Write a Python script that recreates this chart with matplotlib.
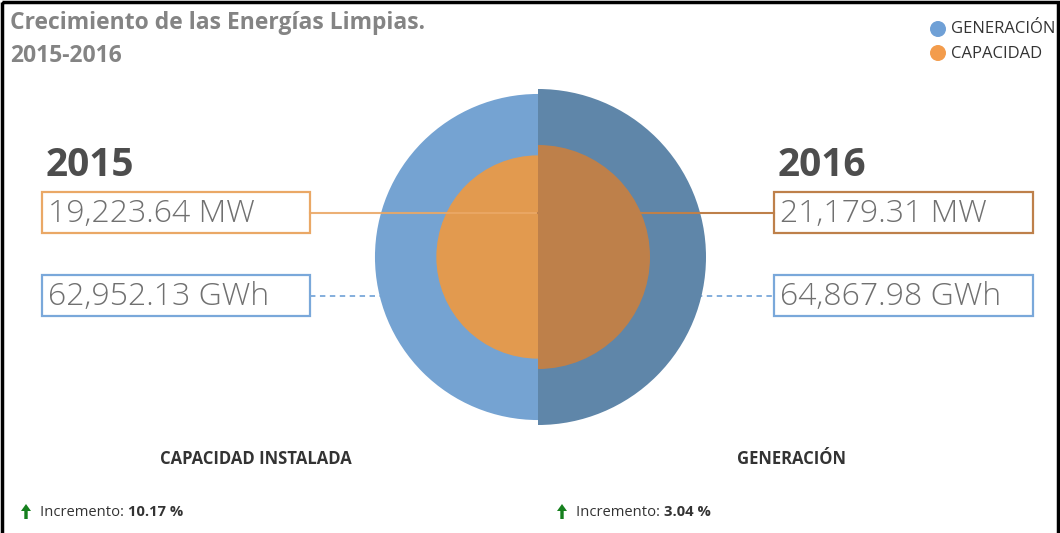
"""
Crecimiento de las Energias Limpias 2015-2016
two half-discs: generation (outer) and capacity (inner)
"""

import matplotlib.pyplot as plt
from matplotlib.patches import Wedge, Rectangle, FancyArrow

years = ['2015', '2016']
capacidad = [19223.64, 21179.31]   # MW
generacion = [62952.13, 64867.98]  # GWh
incrementos = [10.17, 3.04]
etiquetas = ['CAPACIDAD INSTALADA', 'GENERACIÓN']
leyenda = ['GENERACIÓN', 'CAPACIDAD']

gen_colors = ['#75A3D2', '#5F86A9']
cap_colors = ['#E29A4F', '#BE804A']
cap_line = ['#EAA866', '#BE804A']


def main():
    plt.rcParams['font.family'] = ['Open Sans', 'DejaVu Sans']
    fig = plt.figure(figsize=(10.6, 5.33), dpi=100)
    ax = fig.add_axes([0, 0, 1, 1])
    ax.set_xlim(0, 1060)
    ax.set_ylim(533, 0)
    ax.axis('off')

    cx, cy = 538, 257
    # radii proportional to value, per series
    k_gen = 168 / max(generacion)
    k_cap = 112 / max(capacidad)

    y_cap, y_gen = 213, 296
    box_x = [42, 774]
    box_w = [268, 259]

    # dashed generation lines (under the circle)
    ax.plot([box_x[0] + box_w[0], cx], [y_gen, y_gen], ls=(0, (3, 2.5)),
            color='#7AA8DA', lw=1.3, zorder=1)
    ax.plot([cx, box_x[1]], [y_gen, y_gen], ls=(0, (3, 2.5)),
            color='#7AA8DA', lw=1.3, zorder=1)

    for i in range(2):
        t1, t2 = (90, 270) if i == 0 else (270, 90)
        ax.add_patch(Wedge((cx, cy), generacion[i] * k_gen, t1, t2,
                           color=gen_colors[i], lw=0, zorder=2))
        ax.add_patch(Wedge((cx, cy), capacidad[i] * k_cap, t1, t2,
                           color=cap_colors[i], lw=0, zorder=3))

    # capacity lines (over the circle)
    ax.plot([box_x[0] + box_w[0], cx], [y_cap, y_cap], color=cap_line[0],
            lw=1.5, zorder=4, alpha=0.9)
    ax.plot([cx, box_x[1]], [y_cap, y_cap], color=cap_line[1],
            lw=1.5, zorder=4)

    for i in range(2):
        x0 = box_x[i]
        ax.text(x0 + 4, 165, years[i], fontsize=28, fontweight='bold',
                color='#4D4D4D', va='center', ha='left')
        ax.add_patch(Rectangle((x0, y_cap - 21), box_w[i], 41, fill=False,
                               ec=cap_line[i], lw=1.6, zorder=5))
        ax.add_patch(Rectangle((x0, y_gen - 21), box_w[i], 41, fill=False,
                               ec='#7AA8DA', lw=1.6, zorder=5))
        ax.text(x0 + 6, y_cap + 1, f'{capacidad[i]:,.2f} MW', fontsize=23,
                fontweight='light', color='#707070', va='center', ha='left',
                zorder=6)
        ax.text(x0 + 6, y_gen + 1, f'{generacion[i]:,.2f} GWh', fontsize=23,
                fontweight='light', color='#707070', va='center', ha='left',
                zorder=6)

    # bottom labels
    ax.text(256, 459, etiquetas[0], fontsize=12, fontweight='bold',
            color='#333333', ha='center', va='center')
    ax.text(792, 459, etiquetas[1], fontsize=12, fontweight='bold',
            color='#333333', ha='center', va='center')

    for x0, inc in zip([20, 556], incrementos):
        ax.add_patch(FancyArrow(x0 + 6, 519, 0, -15, width=3.4,
                                head_width=10, head_length=7,
                                length_includes_head=True, color='#16801E',
                                lw=0))
        t = ax.text(x0 + 20, 512, 'Incremento: ', fontsize=10.6,
                    color='#333333', ha='left', va='center')
        ax.annotate(f'{inc:.2f} %', xy=(1, 0.5), xycoords=t, fontsize=10.6,
                    fontweight='bold', color='#333333', ha='left', va='center')

    # title
    ax.text(10, 23, 'Crecimiento de las Energías Limpias.', fontsize=16.5,
            fontweight='bold', color='#848484', ha='left', va='center')
    ax.text(10, 56, '2015-2016', fontsize=16.5, fontweight='bold',
            color='#848484', ha='left', va='center')

    # legend
    ax.scatter([938, 938], [29, 53], s=110, c=['#6FA0D6', '#F39C4C'],
               zorder=5)
    ax.text(951, 29, leyenda[0], fontsize=12, color='#333333',
            ha='left', va='center')
    ax.text(951, 54, leyenda[1], fontsize=12, color='#333333',
            ha='left', va='center')

    # frame
    ax.add_patch(Rectangle((2, 2), 1056, 540, fill=False, ec='black',
                           lw=2.5, zorder=10))

    fig.savefig('out.png', dpi=100)


if __name__ == '__main__':
    main()
